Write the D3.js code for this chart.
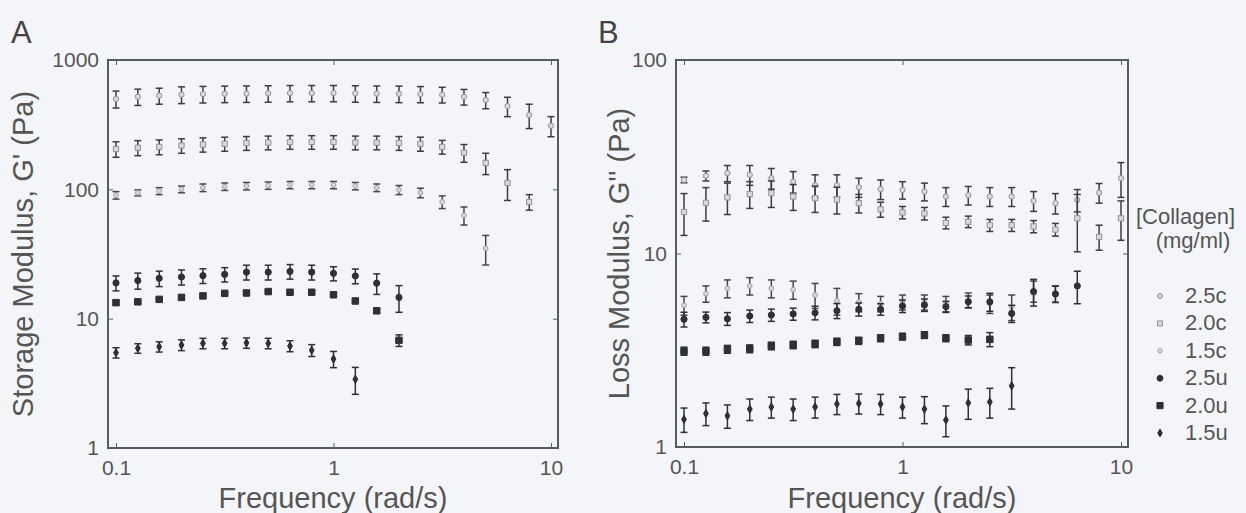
<!DOCTYPE html>
<html>
<head>
<meta charset="utf-8">
<script src="https://cdn.jsdelivr.net/npm/d3@7"></script>
<style>
  body { margin: 0; background: #f4f5f9; }
  svg { display: block; font-family: "Liberation Sans", Arial, sans-serif; }
  .frame { fill: none; stroke: #565b60; stroke-width: 2; }
  .tick line { stroke: #565b60; stroke-width: 1; }
  .tick text { fill: #555; font-size: 21px; }
  .domain { display: none; }
  .title { fill: #555; font-size: 29px; }
  .panel { fill: #444; font-size: 31px; }
  .leg { fill: #555; font-size: 22px; }
</style>
</head>
<body>
<script>
//rheology plots, storage + loss modulus vs frequency
(function(){

//frequency sweep points (rad/s)
var freq = [0.1, 0.126, 0.158, 0.2, 0.251, 0.316, 0.398, 0.501, 0.631, 0.794, 1, 1.26, 1.58, 2, 2.51, 3.16, 3.98, 5.01, 6.31, 7.94, 10];

var seriesNames = ["2.5c", "2.0c", "1.5c", "2.5u", "2.0u", "1.5u"];

//panel A, storage modulus G' (Pa) and error
var gA_25c = [500, 520, 530, 540, 545, 548, 550, 552, 555, 555, 555, 552, 550, 548, 545, 540, 520, 490, 440, 375, 310];
var eA_25c = [75, 75, 75, 80, 80, 80, 80, 80, 80, 80, 80, 80, 80, 80, 78, 75, 72, 70, 75, 80, 55];
var gA_20c = [205, 210, 213, 218, 222, 225, 228, 230, 232, 232, 232, 230, 230, 228, 225, 213, 192, 160, 112, 80];
var eA_20c = [28, 28, 28, 28, 28, 28, 28, 28, 28, 28, 28, 28, 28, 28, 28, 26, 30, 30, 30, 11];
var gA_15c = [90, 94, 97, 100, 103, 105, 106, 107, 108, 108, 108, 106, 103, 99, 94, 80, 63, 35];
var eA_15c = [6, 5, 6, 6, 7, 7, 7, 7, 7, 7, 7, 7, 7, 8, 8, 9, 10, 9];
var gA_25u = [18.9, 19.7, 20.5, 21, 21.5, 22, 22.9, 22.9, 23.2, 22.9, 22.4, 21.4, 18.8, 14.6];
var eA_25u = [2.5, 2.8, 2.8, 2.8, 2.8, 2.8, 3, 3, 3, 3, 2.8, 2.8, 3.4, 3.4];
var gA_20u = [13.3, 13.5, 14.1, 14.6, 15, 15.7, 15.8, 16.2, 16, 16, 15.3, 13.7, 11.5, 6.8];
var eA_20u = [0.5, 0.4, 0.4, 0.4, 0.4, 0.4, 0.4, 0.4, 0.4, 0.4, 0.4, 0.4, 0.4, 0.7];
var gA_15u = [5.46, 5.9, 6.07, 6.26, 6.45, 6.45, 6.5, 6.45, 6.15, 5.7, 4.88, 3.4];
var eA_15u = [0.5, 0.5, 0.55, 0.6, 0.6, 0.6, 0.6, 0.6, 0.6, 0.6, 0.7, 0.8];

//panel B, loss modulus G'' (Pa) and error
var gB_25c = [24, 25.2, 26, 25.5, 24.5, 23.5, 22.5, 22.5, 22, 21.5, 21.3, 20.9, 19.7, 20, 19.7, 19.7, 18.7, 18.2, 18.9, 20.6, 24.5];
var eB_25c = [0.8, 1.5, 2.5, 3, 3, 3, 3, 3, 2.5, 2.5, 2.2, 2.2, 2.2, 2.2, 2.2, 2.2, 2.2, 2.2, 2.5, 2.4, 5];
var gB_20c = [16.4, 18.3, 19.5, 20.3, 20.5, 19.7, 19.3, 19, 18.2, 16.9, 16.3, 16.1, 14.4, 14.6, 14, 14, 13.8, 13.3, 15.2, 12.2, 15.2];
var eB_20c = [4, 3.6, 3.6, 3.2, 3.2, 3, 3, 3, 2, 1.5, 1.2, 1.2, 1, 1, 1, 1, 1, 1, 5, 1.8, 3.5];
var gB_15c = [5.4, 6.2, 6.6, 6.8, 6.6, 6.5, 6.1, 5.7, 5.6, 5.5, 5.6, 5.6, 5.5, 5.75, 5.5, 5.3, 6.4, 6.2];
var eB_15c = [0.6, 0.6, 0.7, 0.7, 0.7, 0.7, 0.9, 0.9, 0.6, 0.5, 0.5, 0.5, 0.5, 0.5, 0.6, 0.8, 0.8, 0.6];
var gB_25u = [4.57, 4.68, 4.6, 4.75, 4.81, 4.87, 4.94, 5.06, 5.15, 5.15, 5.35, 5.42, 5.31, 5.63, 5.63, 4.9, 6.35, 6.18, 6.8];
var eB_25u = [0.4, 0.3, 0.35, 0.35, 0.35, 0.35, 0.4, 0.45, 0.4, 0.35, 0.4, 0.4, 0.35, 0.4, 0.6, 0.5, 1, 0.6, 1.3];
var gB_20u = [3.13, 3.13, 3.2, 3.22, 3.33, 3.37, 3.41, 3.5, 3.54, 3.65, 3.72, 3.79, 3.65, 3.57, 3.6];
var eB_20u = [0.15, 0.15, 0.15, 0.15, 0.15, 0.15, 0.15, 0.15, 0.15, 0.15, 0.15, 0.15, 0.15, 0.2, 0.3];
var gB_15u = [1.39, 1.49, 1.45, 1.57, 1.61, 1.57, 1.61, 1.67, 1.68, 1.67, 1.61, 1.57, 1.38, 1.69, 1.71, 2.07];
var eB_15u = [0.2, 0.2, 0.2, 0.2, 0.2, 0.2, 0.2, 0.2, 0.2, 0.2, 0.2, 0.25, 0.25, 0.3, 0.3, 0.5];

var xTicks = [0.1, 1, 10];

//marker style per series
var styles = {
    "2.5c": {shape: d3.symbolCircle, size: 22, fill: "#d8dade", stroke: "#8f9195", bar: "#3c3d40"},
    "2.0c": {shape: d3.symbolSquare, size: 28, fill: "#d8dade", stroke: "#8f9195", bar: "#3c3d40"},
    "1.5c": {shape: d3.symbolCircle, size: 18, fill: "#d4d6d9", stroke: "#a0a2a6", bar: "#46474a"},
    "2.5u": {shape: d3.symbolCircle, size: 30, fill: "#2e3032", stroke: "#2e3032", bar: "#2e3032"},
    "2.0u": {shape: d3.symbolSquare, size: 42, fill: "#2e3032", stroke: "#2e3032", bar: "#2e3032"},
    "1.5u": {shape: d3.symbolDiamond, size: 20, fill: "#2e3032", stroke: "#2e3032", bar: "#2e3032"}
};

var width = 1246, height = 513;

var svg = d3.select("body")
    .append("svg")
    .attr("width", width)
    .attr("height", height);

//build series tables for each panel
function makeSeries(vals, errs){
    return seriesNames.map(function(name, i){
        return {name: name, points: vals[i].map(function(v, j){
            return {f: freq[j], v: v, e: errs[i][j]};
        })};
    });
}

var seriesA = makeSeries([gA_25c, gA_20c, gA_15c, gA_25u, gA_20u, gA_15u],
                         [eA_25c, eA_20c, eA_15c, eA_25u, eA_20u, eA_15u]);
var seriesB = makeSeries([gB_25c, gB_20c, gB_15c, gB_25u, gB_20u, gB_15u],
                         [eB_25c, eB_20c, eB_15c, eB_25u, eB_20u, eB_15u]);

drawPanel({left: 108, right: 558, top: 60, bottom: 448, yMax: 1000, yTicks: [1, 10, 100, 1000],
    letter: "A", letterX: 11, title: "Storage Modulus, G' (Pa)", titleX: 33, series: seriesA});
drawPanel({left: 676, right: 1128, top: 60, bottom: 447, yMax: 100, yTicks: [1, 10, 100],
    letter: "B", letterX: 598, title: "Loss Modulus, G'' (Pa)", titleX: 629, series: seriesB});

drawLegend();

function drawPanel(p){
    var x = d3.scaleLog()
        .domain([0.1, 10])
        .range([p.left + 8, p.right - 7]);
    var y = d3.scaleLog()
        .domain([1, p.yMax])
        .range([p.bottom, p.top]);

    var g = svg.append("g");

    //inward ticks on all four sides
    g.append("g")
        .attr("transform", "translate(0," + p.bottom + ")")
        .call(d3.axisBottom(x).tickValues(xTicks).tickFormat(function(d){ return d; })
            .tickSize(-5).tickPadding(12));
    g.append("g")
        .attr("transform", "translate(0," + p.top + ")")
        .call(d3.axisTop(x).tickValues(xTicks).tickFormat("").tickSize(-5));
    g.append("g")
        .attr("transform", "translate(" + p.left + ",0)")
        .call(d3.axisLeft(y).tickValues(p.yTicks).tickFormat(function(d){ return d; })
            .tickSize(-5).tickPadding(9));
    g.append("g")
        .attr("transform", "translate(" + p.right + ",0)")
        .call(d3.axisRight(y).tickValues(p.yTicks).tickFormat("").tickSize(-5));

    g.append("rect")
        .attr("class", "frame")
        .attr("x", p.left)
        .attr("y", p.top)
        .attr("width", p.right - p.left)
        .attr("height", p.bottom - p.top);

    //error bars then markers, c series drawn first
    p.series.forEach(function(s){
        var st = styles[s.name];
        var sg = g.append("g").attr("class", "series");

        var bars = sg.selectAll(".bar")
            .data(s.points)
            .enter()
            .append("g")
            .attr("stroke", st.bar)
            .attr("stroke-width", 1.5);
        bars.append("line")
            .attr("x1", function(d){ return x(d.f); })
            .attr("x2", function(d){ return x(d.f); })
            .attr("y1", function(d){ return y(d.v + d.e); })
            .attr("y2", function(d){ return y(Math.max(d.v - d.e, 1.01)); });
        bars.append("line")
            .attr("x1", function(d){ return x(d.f) - 3.5; })
            .attr("x2", function(d){ return x(d.f) + 3.5; })
            .attr("y1", function(d){ return y(d.v + d.e); })
            .attr("y2", function(d){ return y(d.v + d.e); });
        bars.append("line")
            .attr("x1", function(d){ return x(d.f) - 3.5; })
            .attr("x2", function(d){ return x(d.f) + 3.5; })
            .attr("y1", function(d){ return y(Math.max(d.v - d.e, 1.01)); })
            .attr("y2", function(d){ return y(Math.max(d.v - d.e, 1.01)); });

        sg.selectAll(".pt")
            .data(s.points)
            .enter()
            .append("path")
            .attr("d", d3.symbol().type(st.shape).size(st.size))
            .attr("transform", function(d){ return "translate(" + x(d.f) + "," + y(d.v) + ")"; })
            .attr("fill", st.fill)
            .attr("stroke", st.stroke)
            .attr("stroke-width", 1);
    });

    g.selectAll(".tick text").attr("fill", "#555");

    //axis titles and panel letter
    g.append("text")
        .attr("class", "title")
        .attr("x", (p.left + p.right) / 2)
        .attr("y", 508)
        .attr("text-anchor", "middle")
        .text("Frequency (rad/s)");
    g.append("text")
        .attr("class", "title")
        .attr("transform", "translate(" + p.titleX + "," + ((p.top + p.bottom) / 2) + ") rotate(-90)")
        .attr("text-anchor", "middle")
        .text(p.title);
    g.append("text")
        .attr("class", "panel")
        .attr("x", p.letterX)
        .attr("y", 43)
        .text(p.letter);
}

function drawLegend(){
    var lg = svg.append("g");
    lg.append("text")
        .attr("class", "leg")
        .attr("x", 1136)
        .attr("y", 224)
        .text("[Collagen]");
    lg.append("text")
        .attr("class", "leg")
        .attr("x", 1193)
        .attr("y", 248)
        .attr("text-anchor", "middle")
        .text("(mg/ml)");

    var rows = lg.selectAll(".row")
        .data(seriesNames)
        .enter()
        .append("g")
        .attr("transform", function(d, i){ return "translate(0," + (303 + i * 27.4) + ")"; });
    rows.append("path")
        .attr("d", function(d){ return d3.symbol().type(styles[d].shape).size(styles[d].size * 0.9)(); })
        .attr("transform", "translate(1160,-7)")
        .attr("fill", function(d){ return styles[d].fill; })
        .attr("stroke", function(d){ return styles[d].stroke; });
    rows.append("text")
        .attr("class", "leg")
        .attr("x", 1185)
        .text(function(d){ return d; });
}

})();
</script>
</body>
</html>
